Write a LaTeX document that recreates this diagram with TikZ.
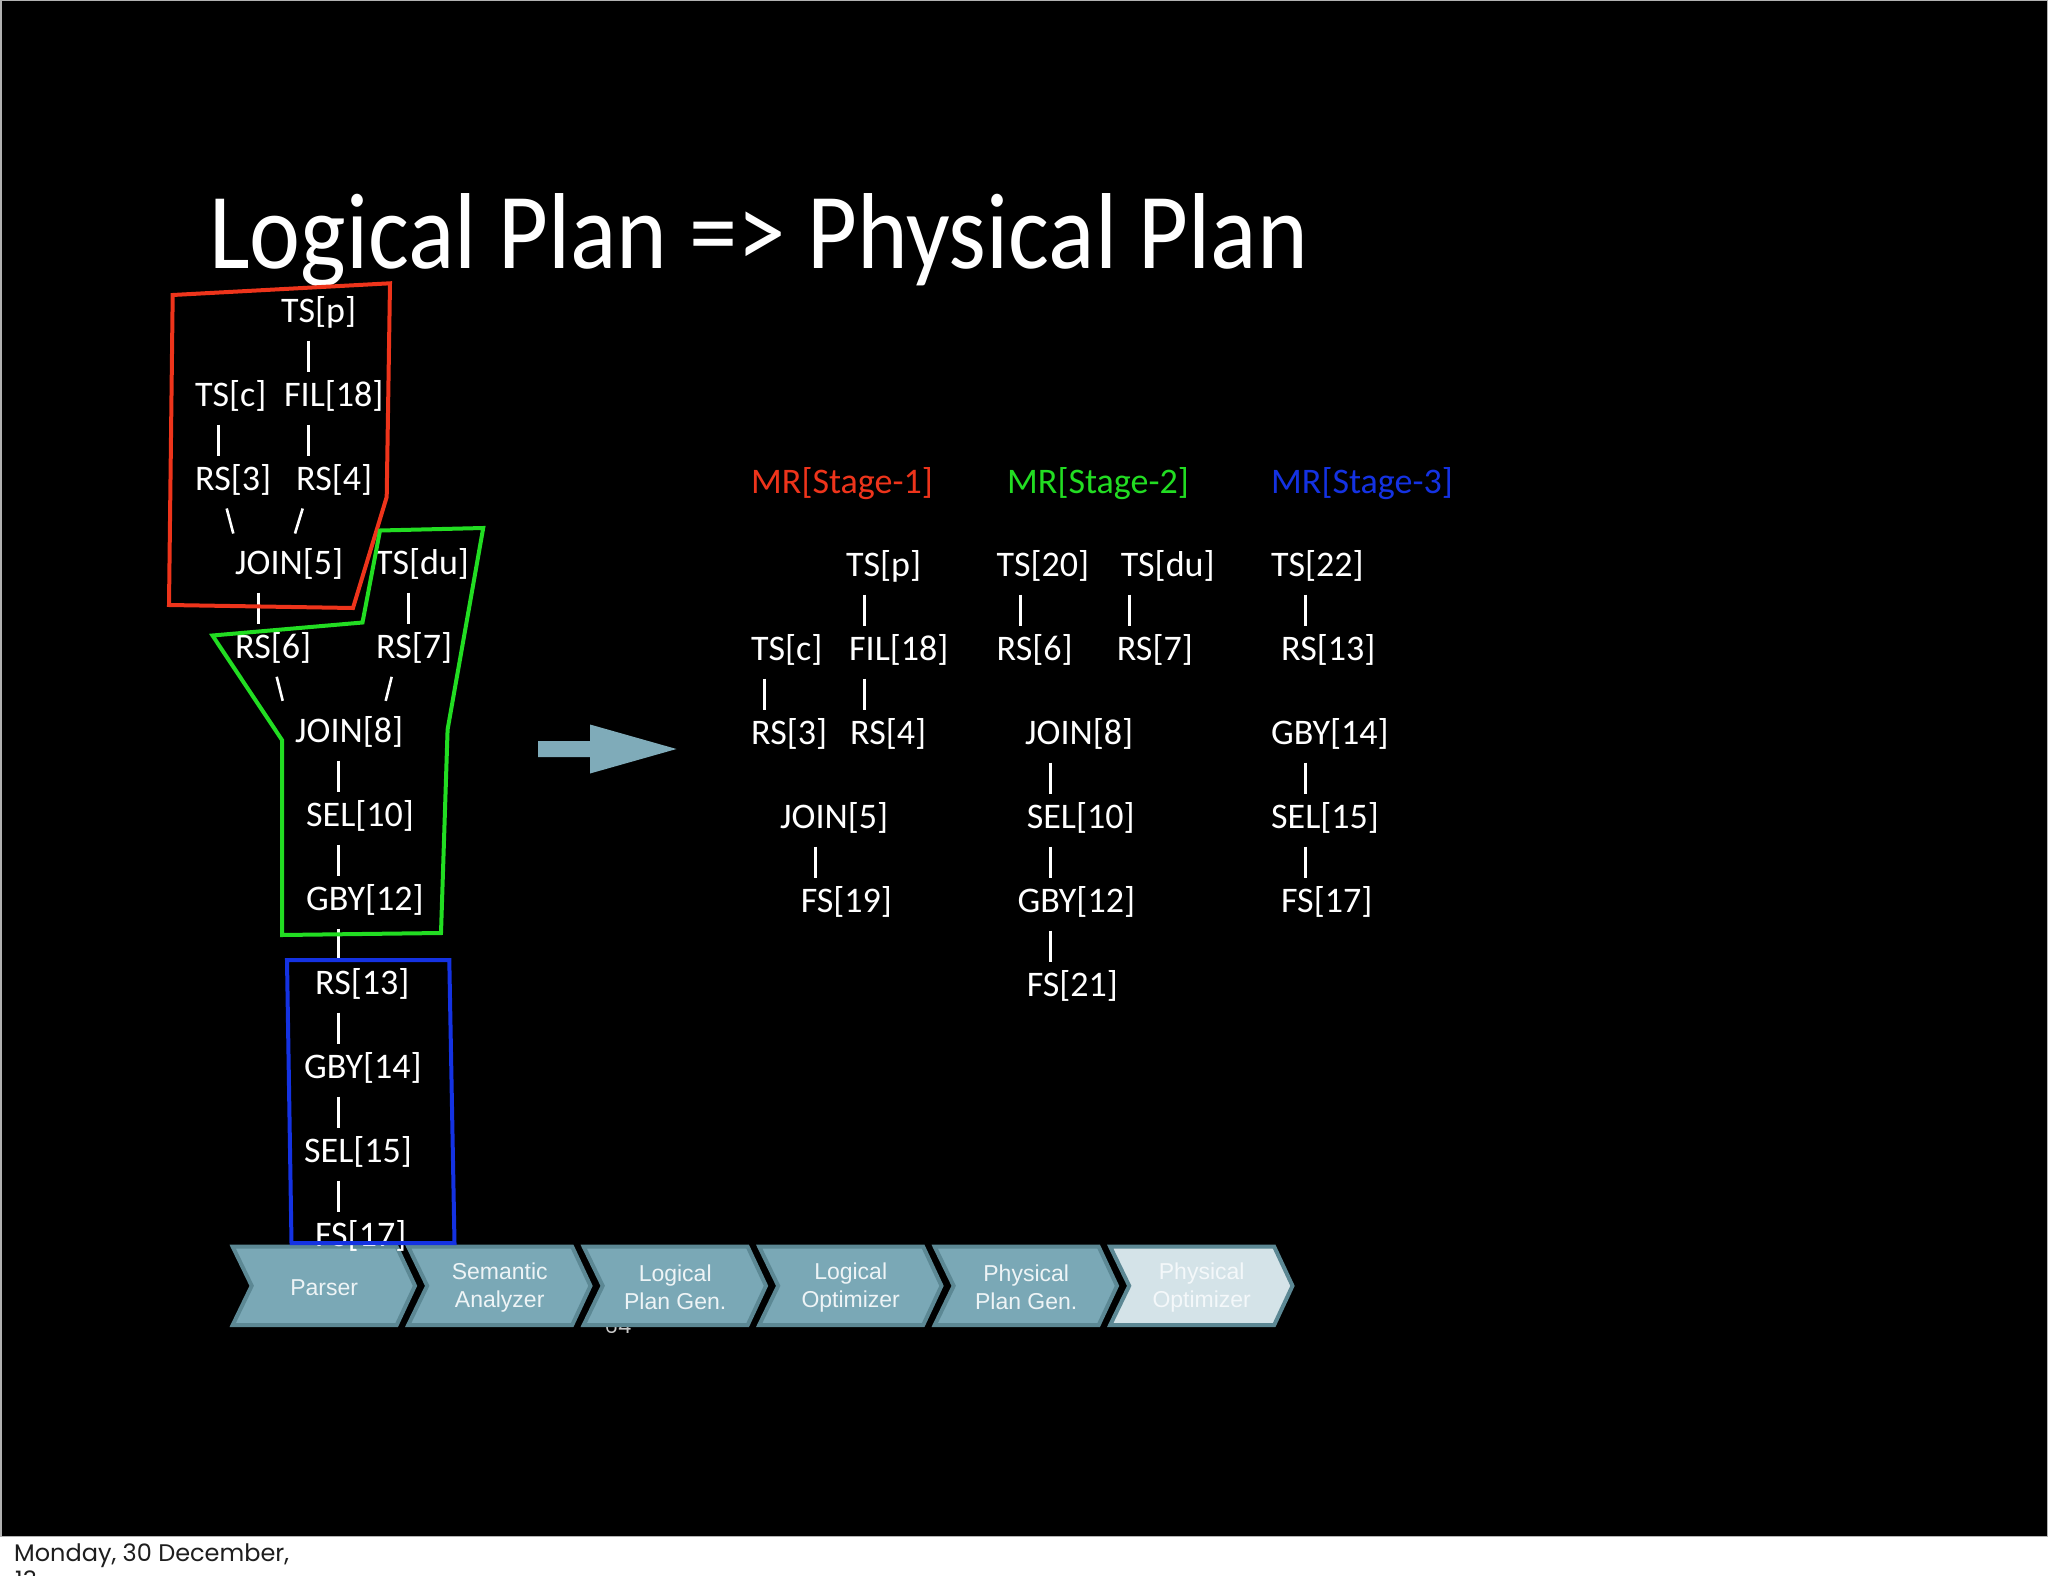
\documentclass[tikz,border=0pt]{standalone}
\usepackage{graphicx}
\usepackage{fontspec}
\setmainfont{Carlito}
\newfontfamily\chevfont{Liberation Sans}
\newfontfamily\footfont{Poppins}
\usetikzlibrary{calc}

\definecolor{stred}{RGB}{238,52,27}
\definecolor{stgreen}{RGB}{34,221,34}
\definecolor{stblue}{RGB}{20,50,226}
\definecolor{chevfill}{RGB}{122,168,182}
\definecolor{chevline}{RGB}{92,136,148}
\definecolor{chevlight}{RGB}{212,227,232}
\definecolor{chevtext}{RGB}{238,244,246}
\definecolor{chevtextlight}{RGB}{244,248,250}
\definecolor{arrowfill}{RGB}{127,171,185}
\definecolor{pagenum}{RGB}{200,200,200}
\definecolor{foottext}{RGB}{30,30,30}

\newcommand\mkchev[5]{%
  \pgfmathsetmacro\chx{232.7+175.5*#1}
  \draw[chevshape, fill=#2] (\chx,1246.7) -- (\chx+164,1246.7) -- (\chx+182.3,1285.8)
     -- (\chx+164,1325) -- (\chx,1325) -- (\chx+19,1285.8) -- cycle;
  \node[chevlabel, text=#3] (#4) at (\chx+91.5,1287.5) {#5};
}

\begin{document}
\begin{tikzpicture}[x=1pt,y=-1pt,
  op/.style={text=white, font=\fontsize{36}{40}\selectfont, inner sep=0pt,
             text height=25pt, text depth=9pt, anchor=base west, yshift=-3.5pt},
  bar/.style={draw=white, line width=3pt, shorten <=9pt, shorten >=9pt},
  slash/.style={draw=white, line width=2.6pt},
  stagebox/.style={line width=4pt, line join=miter},
  chevshape/.style={draw=chevline, line width=4pt, line join=miter},
  chevlabel/.style={align=center, inner sep=0pt,
                    font=\chevfont\fontsize{23}{27.5}\selectfont}
]
\useasboundingbox (0,0) rectangle (2048,1576);
\clip (0,0) rectangle (2048,1576);

% background
\fill[black] (0,0) rectangle (2048,1537);
\fill[white] (0,1537) rectangle (2048,1576);
\draw[gray!60, line width=1.5pt] (0.75,0.75) rectangle (2047.25,1536.5);

% footer
\node[anchor=base west, inner sep=0pt, text=foottext,
      font=\footfont\fontsize{24}{27}\selectfont] (date) at (14,1561) {Monday, 30 December,};
\node[anchor=base west, inner sep=0pt, text=foottext,
      font=\footfont\fontsize{24}{27}\selectfont] (date2) at (15,1588) {13};

% page number (mostly hidden)
\node[anchor=base, inner sep=0pt, text=pagenum,
      font=\footfont\fontsize{21}{22}\selectfont] (pnum) at (618,1333) {64};

% chevrons
\mkchev{0}{chevfill}{chevtext}{ch1}{Parser}
\mkchev{1}{chevfill}{chevtext}{ch2}{Semantic\\Analyzer}
\mkchev{2}{chevfill}{chevtext}{ch3}{Logical\\Plan Gen.}
\mkchev{3}{chevfill}{chevtext}{ch4}{Logical\\Optimizer}
\mkchev{4}{chevfill}{chevtext}{ch5}{Physical\\Plan Gen.}
\mkchev{5}{chevlight}{chevtextlight}{ch6}{Physical\\Optimizer}

% title
\node[anchor=base west, inner sep=0pt, text=white,
      font=\fontsize{108}{120}\selectfont] (title) at (209,268)
      {\scalebox{0.894}[1]{Logical Plan => Physical Plan}};

% big arrow
\fill[arrowfill] (538,741) -- (590,741) -- (590,724.5) -- (676.5,749) -- (590,773.5)
   -- (590,757) -- (538,757) -- cycle;

% ---------- left tree ----------
\node[op] (tsp) at (281,319) {TS[p]};
\node[op] (tsc) at (195,403) {TS[c]};
\node[op] (fil) at (284,403) {FIL[18]};
\node[op] (rs3) at (195,487) {RS[3]};
\node[op] (rs4) at (296,487) {RS[4]};
\node[op] (jn5) at (235,571) {JOIN[5]};
\node[op] (tsdu) at (375,571) {TS[du]};
\node[op] (rs6) at (235,655) {RS[6]};
\node[op] (rs7) at (376,655) {RS[7]};
\node[op] (jn8) at (295,739) {JOIN[8]};
\node[op] (sel10) at (306,823) {SEL[10]};
\node[op] (gby12) at (306,907) {GBY[12]};
\node[op] (rs13) at (315,991) {RS[13]};
\node[op] (gby14) at (304,1075) {GBY[14]};
\node[op] (sel15) at (304,1159) {SEL[15]};
\node[op] (fs17) at (315,1243) {FS[17]};

\draw[bar] (tsp.south -| 308,0) -- (fil.north -| 308,0);
\draw[bar] (tsc.south -| 218,0) -- (rs3.north -| 218,0);
\draw[bar] (fil.south -| 308,0) -- (rs4.north -| 308,0);
\draw[bar] (jn5.south -| 258.5,0) -- (rs6.north -| 258.5,0);
\draw[bar] (tsdu.south -| 408.5,0) -- (rs7.north -| 408.5,0);
\draw[bar] (jn8.south -| 338,0) -- (sel10.north -| 338,0);
\draw[bar] (sel10.south -| 338,0) -- (gby12.north -| 338,0);
\draw[bar] (gby12.south -| 338,0) -- (rs13.north -| 338,0);
\draw[bar] (rs13.south -| 338,0) -- (gby14.north -| 338,0);
\draw[bar] (gby14.south -| 338,0) -- (sel15.north -| 338,0);
\draw[bar] (sel15.south -| 338,0) -- (fs17.north -| 338,0);

\draw[slash] ($(rs3.base west)+(31.7,18)$) -- ($(jn5.base west)+(-1.7,-41)$);
\draw[slash] ($(rs4.base west)+(6.7,18)$) -- ($(jn5.base west)+(60,-41)$);
\draw[slash] ($(rs6.base west)+(41.7,18.3)$) -- ($(jn8.base west)+(-12.3,-41.7)$);
\draw[slash] ($(rs7.base west)+(15.7,18.3)$) -- ($(jn8.base west)+(90.7,-41.7)$);

% stage outlines
\draw[stagebox, stred] (172.7,295) -- (390,283.3) -- (386.7,497) -- (353,608) -- (169,605) -- cycle;
\draw[stagebox, stgreen] (380,530.5) -- (483.2,528) -- (447.6,729.5) -- (441,933) -- (282,935)
   -- (282,740) -- (212.5,635.5) -- (362.5,622.5) -- cycle;
\draw[stagebox, stblue] (287,960) -- (449.3,960) -- (454.5,1243) -- (291.5,1243) -- cycle;

% ---------- right side: stage 1 ----------
\node[op, text=stred] (st1) at (751,490) {MR[Stage-1]};
\node[op] (c1tsp) at (846,573) {TS[p]};
\node[op] (c1tsc) at (751,657) {TS[c]};
\node[op] (c1fil) at (849,657) {FIL[18]};
\node[op] (c1rs3) at (751,741) {RS[3]};
\node[op] (c1rs4) at (850,741) {RS[4]};
\node[op] (c1jn5) at (780,825) {JOIN[5]};
\node[op] (c1fs19) at (800.6,909) {FS[19]};
\draw[bar] (c1tsp.south -| 864.6,0) -- (c1fil.north -| 864.6,0);
\draw[bar] (c1tsc.south -| 764,0) -- (c1rs3.north -| 764,0);
\draw[bar] (c1fil.south -| 864.6,0) -- (c1rs4.north -| 864.6,0);
\draw[bar] (c1jn5.south -| 815,0) -- (c1fs19.north -| 815,0);

% ---------- stage 2 ----------
\node[op, text=stgreen] (st2) at (1007,490) {MR[Stage-2]};
\node[op] (c2ts20) at (996.5,573) {TS[20]};
\node[op] (c2tsdu) at (1120.6,573) {TS[du]};
\node[op] (c2rs6) at (996.5,657) {RS[6]};
\node[op] (c2rs7) at (1116.7,657) {RS[7]};
\node[op] (c2jn8) at (1025,741) {JOIN[8]};
\node[op] (c2sel10) at (1026.6,825) {SEL[10]};
\node[op] (c2gby12) at (1017.4,909) {GBY[12]};
\node[op] (c2fs21) at (1026.6,993) {FS[21]};
\draw[bar] (c2ts20.south -| 1020,0) -- (c2rs6.north -| 1020,0);
\draw[bar] (c2tsdu.south -| 1129.8,0) -- (c2rs7.north -| 1129.8,0);
\draw[bar] (c2jn8.south -| 1050,0) -- (c2sel10.north -| 1050,0);
\draw[bar] (c2sel10.south -| 1050,0) -- (c2gby12.north -| 1050,0);
\draw[bar] (c2gby12.south -| 1050,0) -- (c2fs21.north -| 1050,0);

% ---------- stage 3 ----------
\node[op, text=stblue] (st3) at (1271,490) {MR[Stage-3]};
\node[op] (c3ts22) at (1271,573) {TS[22]};
\node[op] (c3rs13) at (1281,657) {RS[13]};
\node[op] (c3gby14) at (1271,741) {GBY[14]};
\node[op] (c3sel15) at (1271,825) {SEL[15]};
\node[op] (c3fs17) at (1281,909) {FS[17]};
\draw[bar] (c3ts22.south -| 1305,0) -- (c3rs13.north -| 1305,0);
\draw[bar] (c3gby14.south -| 1305,0) -- (c3sel15.north -| 1305,0);
\draw[bar] (c3sel15.south -| 1305,0) -- (c3fs17.north -| 1305,0);
\end{tikzpicture}
\end{document}
